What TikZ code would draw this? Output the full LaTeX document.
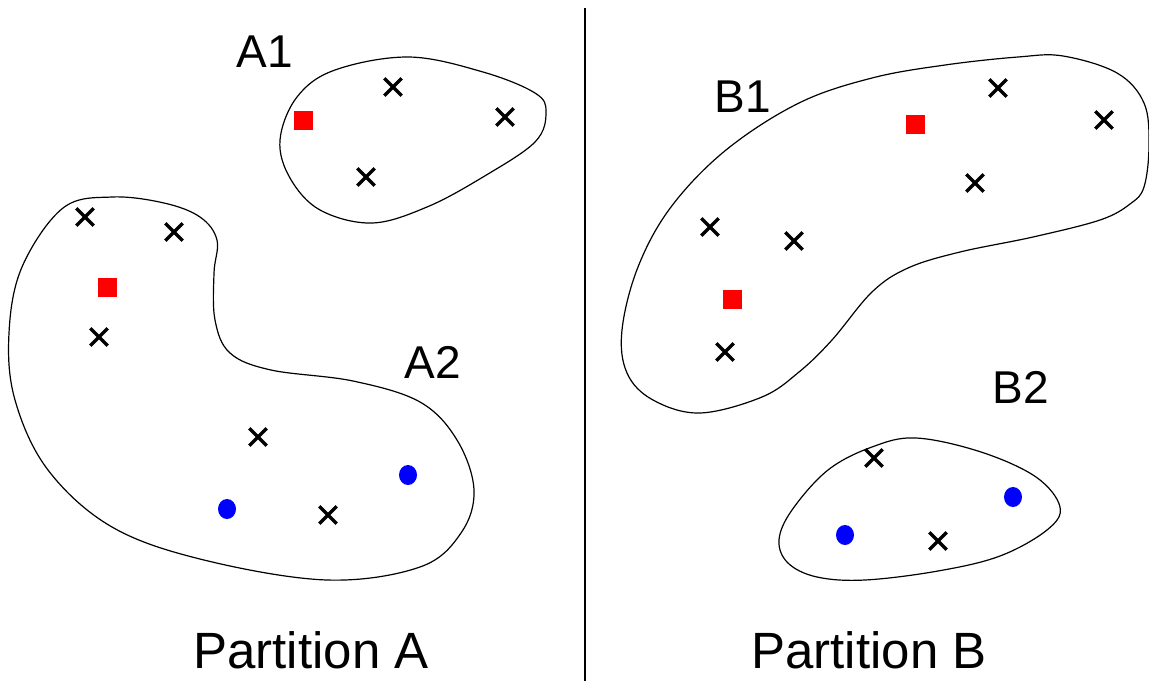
\documentclass[tikz,border=0pt]{standalone}
\usepackage{fontspec}
\setmainfont{Liberation Sans}
\usetikzlibrary{shapes.misc, shapes.geometric}
\definecolor{PRed}{RGB}{255,0,0}
\definecolor{PBlue}{RGB}{0,0,255}
\tikzset{
  xmark/.style={cross out, draw=black, line width=3.3pt, minimum size=14pt, inner sep=0pt},
  redsq/.style={rectangle, fill=PRed, minimum size=19pt, inner sep=0pt},
  bluedot/.style={ellipse, fill=PBlue, minimum width=18pt, minimum height=20pt, inner sep=0pt},
  blob/.style={draw=black, line width=1.2pt},
  setlabel/.style={font=\fontsize{46}{50}\selectfont, inner sep=0pt},
  parttitle/.style={font=\fontsize{51}{55}\selectfont, inner sep=0pt},
}

\begin{document}
\begin{tikzpicture}[x=1pt, y=-1pt]
\useasboundingbox (0,0) rectangle (1149,681);

% divider
\coordinate (div-top) at (585,8);
\coordinate (div-bot) at (585,681);
\draw[line width=2pt] (div-top) -- (div-bot);

% Partition A
\draw[blob] plot[smooth cycle, tension=0.6] coordinates {
    (280,140) (297,97) (335,70) (409,57) (483,72) (535,93) (546,112)
    (535,142) (483,177) (427,207) (372,223) (320,210) (290,178)};
\draw[blob] plot[smooth cycle, tension=0.6] coordinates {
    (112,197) (63,208) (22,267) (9,333) (15,400) (48,470) (112,527)
    (204,560) (327,580) (420,567) (461,533) (474,490) (457,440) (420,402)
    (353,381) (271,370) (230,353) (215,320) (214,273) (217,240) (200,217) (164,203)};

\node[setlabel] (A1) at (265,52) {A1};
\node[setlabel] (A2) at (433,362) {A2};
\node[parttitle] (titleA) at (311,650) {Partition A};

\node[redsq] (A1-sq) at (303,120) {};
\node[xmark] (A1-x1) at (393,87) {};
\node[xmark] (A1-x2) at (505,117) {};
\node[xmark] (A1-x3) at (366,177) {};

\node[xmark] (A2-x1) at (85,217) {};
\node[xmark] (A2-x2) at (174,232) {};
\node[redsq] (A2-sq) at (107,287) {};
\node[xmark] (A2-x3) at (99,337) {};
\node[xmark] (A2-x4) at (258,437) {};
\node[xmark] (A2-x5) at (328,515) {};
\node[bluedot] (A2-d1) at (227,509) {};
\node[bluedot] (A2-d2) at (408,475) {};

% Partition B
\draw[blob] plot[smooth cycle, tension=0.6] coordinates {
    (1063,56) (1117,73) (1144,103) (1149,145) (1144,187) (1130,204)
    (1100,220) (1033,237) (960,252) (908,268) (872,292) (832,340)
    (799,372) (762,397) (700,413) (653,400) (627,373) (622,330) (638,267)
    (671,207) (726,150) (799,103) (872,78) (945,65) (1018,57)};
\draw[blob] plot[smooth cycle, tension=0.6] coordinates {
    (916,438) (981,452) (1036,477) (1060,507) (1047,530) (1000,556)
    (938,571) (865,580) (817,577) (788,563) (779,540) (792,510) (828,470) (872,447)};

\node[setlabel] (B1) at (743,97) {B1};
\node[setlabel] (B2) at (1021,387) {B2};
\node[parttitle] (titleB) at (869,650) {Partition B};

\node[redsq] (B1-sq1) at (915,124) {};
\node[redsq] (B1-sq2) at (732,299) {};
\node[xmark] (B1-x1) at (998,88) {};
\node[xmark] (B1-x2) at (1104,120) {};
\node[xmark] (B1-x3) at (975,183) {};
\node[xmark] (B1-x4) at (710,227) {};
\node[xmark] (B1-x5) at (794,241) {};
\node[xmark] (B1-x6) at (725,352) {};

\node[xmark] (B2-x1) at (874,458) {};
\node[xmark] (B2-x2) at (938,541) {};
\node[bluedot] (B2-d1) at (845,535) {};
\node[bluedot] (B2-d2) at (1013,497) {};

\end{tikzpicture}
\end{document}
